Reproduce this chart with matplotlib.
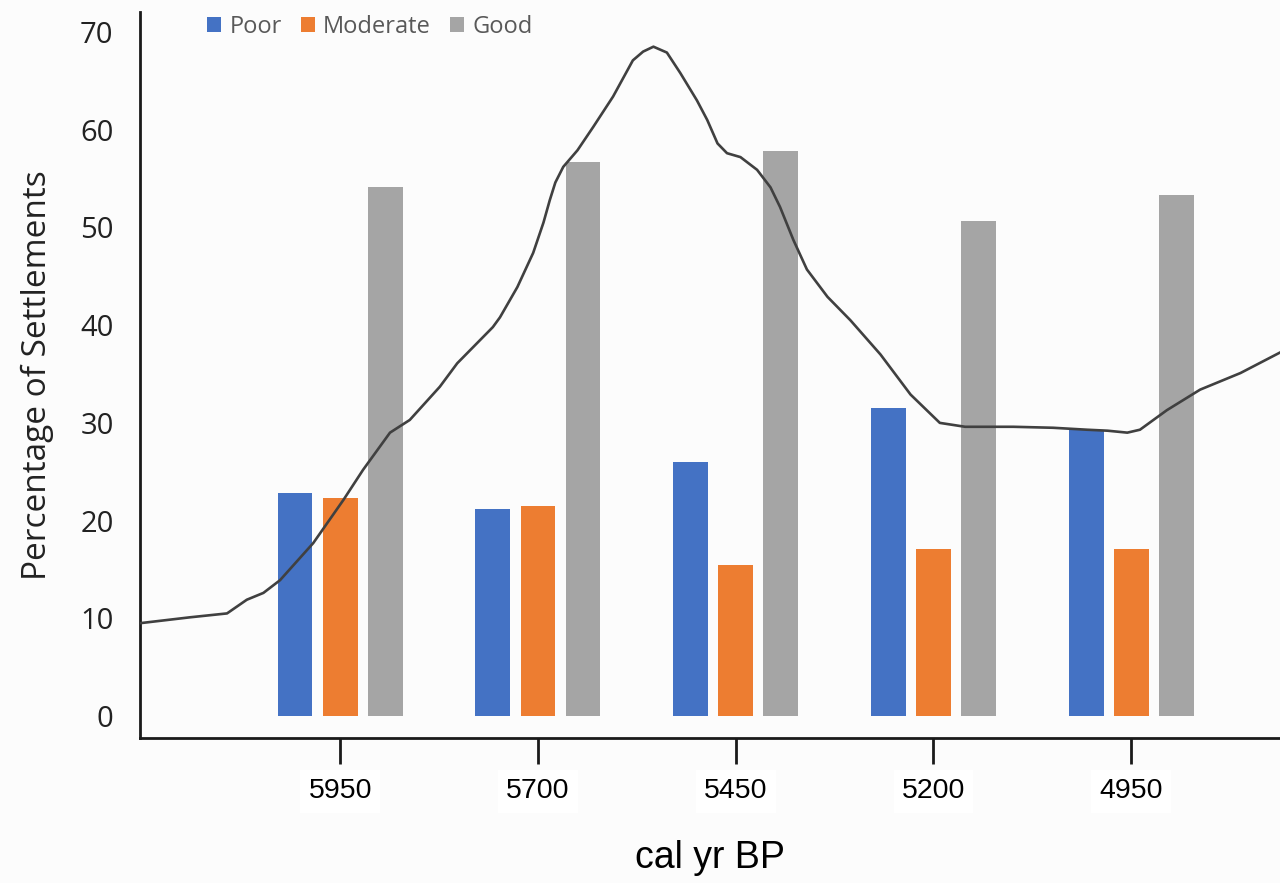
import matplotlib.pyplot as plt
import numpy as np

# settlement condition shares per period (%)
periods = [5950, 5700, 5450, 5200, 4950]
poor = [22.8, 21.2, 26.0, 31.5, 29.3]
moderate = [22.3, 21.5, 15.5, 17.1, 17.1]
good = [54.1, 56.7, 57.8, 50.7, 53.3]

# background curve (cal yr BP, %)
curve_years = [6203, 6140, 6093, 6068, 6047, 6026, 5984, 5946, 5921, 5887,
               5862, 5824, 5802, 5757, 5748, 5726, 5706, 5693, 5685, 5678,
               5668, 5650, 5630, 5605, 5580, 5567, 5554, 5537, 5520, 5499,
               5486, 5473, 5461, 5444, 5423, 5406, 5394, 5377, 5360, 5334,
               5305, 5267, 5229, 5192, 5160, 5099, 5049, 5006, 4980, 4955,
               4939, 4905, 4863, 4812, 4762]
curve_vals = [9.5, 10.1, 10.5, 11.9, 12.6, 13.9, 17.7, 22.1, 25.2, 29.0,
              30.3, 33.7, 36.1, 39.8, 40.8, 43.9, 47.4, 50.5, 52.8, 54.6,
              56.2, 57.9, 60.3, 63.4, 67.1, 68.0, 68.5, 67.9, 65.8, 63.0,
              61.0, 58.6, 57.6, 57.2, 55.9, 54.1, 52.1, 48.7, 45.7, 42.9,
              40.5, 37.0, 32.9, 30.0, 29.6, 29.6, 29.5, 29.3, 29.2, 29.0,
              29.3, 31.3, 33.4, 35.1, 37.2]

series = [("Poor", poor, "#4472C4"),
          ("Moderate", moderate, "#ED7D31"),
          ("Good", good, "#A5A5A5")]

bg = "#fcfcfc"
fig = plt.figure(figsize=(12.8, 8.83), dpi=100, facecolor=bg)
ax = fig.add_axes([140 / 1280, 1 - 738 / 883, 1140 / 1280, 726 / 883])
ax.set_facecolor(bg)

x = np.array(periods, dtype=float)
width = 44
step = 57
for i, (name, vals, col) in enumerate(series):
    # axis runs backwards in time, so shift bars toward younger ages
    ax.bar(x - (i - 1) * step, vals, width=width, color=col, label=name,
           zorder=2)

ax.plot(curve_years, curve_vals, color="#404040", lw=1.9, zorder=3,
        solid_joinstyle="round")

ax.set_xlim(6203, 4762)
ax.set_ylim(-2.25, 72.05)

for s in ["top", "right"]:
    ax.spines[s].set_visible(False)
for s in ["left", "bottom"]:
    ax.spines[s].set_color("#1a1a1a")
    ax.spines[s].set_linewidth(2)

ax.set_yticks(range(0, 80, 10))
ax.tick_params(axis="y", length=0, pad=19, labelsize=21, labelcolor="#222222")
for t in ax.get_yticklabels():
    t.set_fontfamily("Open Sans")

ax.set_xticks(periods)
ax.set_xticklabels([str(p) for p in periods])
ax.tick_params(axis="x", length=19, width=2, color="#1a1a1a", pad=10,
               labelsize=20.5)
for t in ax.get_xticklabels():
    t.set_fontfamily("Liberation Sans")
    t.set_bbox(dict(facecolor="white", edgecolor="none", pad=6))

ax.set_ylabel("Percentage of Settlements", fontsize=24, family="Open Sans",
              color="#222222", labelpad=19)
ax.set_xlabel("cal yr BP", fontsize=27, family="Liberation Sans", labelpad=26)

leg = ax.legend(loc="upper left", bbox_to_anchor=(0.04, 1.025), ncol=3,
                frameon=False, handlelength=0.6, handleheight=0.6,
                handletextpad=0.35, columnspacing=0.8,
                prop={"family": "Open Sans", "size": 17})
for t in leg.get_texts():
    t.set_color("#595959")

fig.savefig("out.png", dpi=100, facecolor=bg)
